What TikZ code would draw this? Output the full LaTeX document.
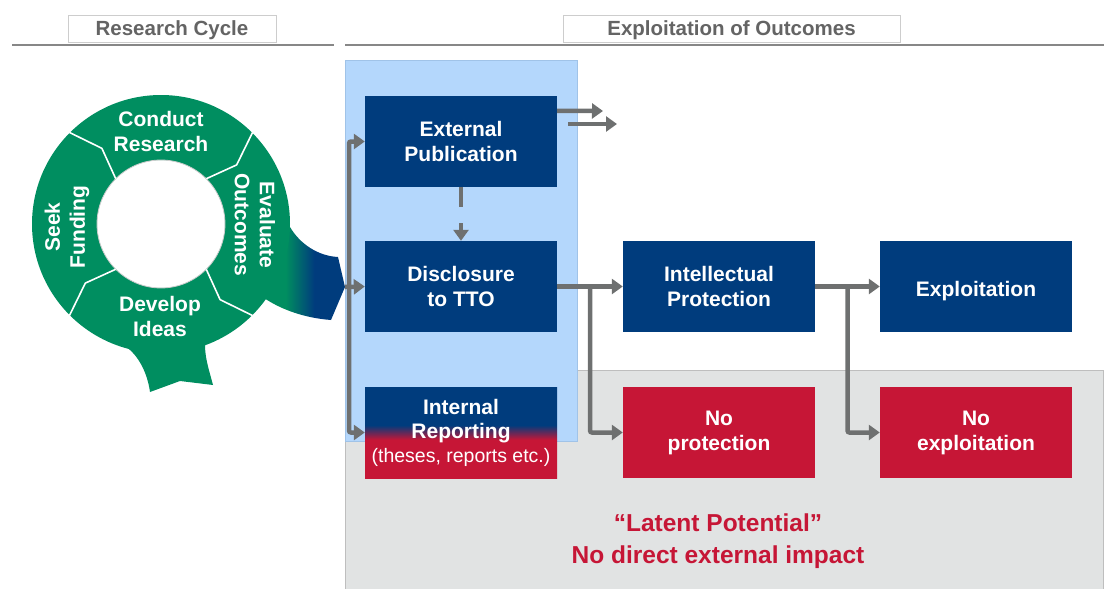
\documentclass[tikz,border=0pt]{standalone}
\usepackage{fontspec}
\setmainfont{Liberation Sans}
\usetikzlibrary{arrows.meta,calc}
\definecolor{cgreen}{RGB}{0,142,96}
\definecolor{cblue}{RGB}{0,60,125}
\definecolor{cred}{RGB}{198,22,54}
\definecolor{lblue}{RGB}{180,215,252}
\definecolor{lbluedge}{RGB}{160,195,232}
\definecolor{lgray}{RGB}{225,227,227}
\definecolor{lgrayedge}{RGB}{190,190,190}
\definecolor{agray}{RGB}{110,112,112}
\definecolor{hgray}{RGB}{100,100,100}
\definecolor{hline}{RGB}{135,135,135}
\definecolor{hbox}{RGB}{205,205,205}
\pgfdeclarehorizontalshading{tailshade}{100bp}{color(0bp)=(cgreen); color(42bp)=(cgreen); color(58bp)=(cblue); color(100bp)=(cblue)}
\pgfdeclareverticalshading{irshade}{100bp}{color(0bp)=(cred); color(46bp)=(cred); color(54bp)=(cblue); color(100bp)=(cblue)}
\begin{document}
\begin{tikzpicture}[x=1pt,y=-1pt,
  box/.style={rectangle, minimum width=192pt, minimum height=91pt, inner sep=0pt, text=white,
    font=\fontsize{21}{25}\selectfont\bfseries, align=center,
    execute at begin node={\rule{0pt}{24pt}}},
  bluebox/.style={box, fill=cblue},
  redbox/.style={box, fill=cred},
  arr/.style={draw=agray, line width=4.5pt, rounded corners=2pt, -{Triangle[length=11pt,width=15pt]}},
  ringtext/.style={text=white, font=\fontsize{21}{25}\selectfont\bfseries, align=center, inner sep=0pt},
  hdr/.style={draw=hbox, line width=1pt, fill=white, text=hgray, font=\fontsize{20.5}{24}\selectfont\bfseries,
    minimum height=27pt, inner sep=0pt, execute at begin node={\rule{0pt}{19pt}}},
  chev/.style={white, line width=1.6pt}
]
\useasboundingbox (0,0) rectangle (1104,589);

% headers
\node[hdr, minimum width=208pt] (h1) at (172,28.5) {Research Cycle};
\node[hdr, minimum width=337pt] (h2) at (731.5,28.5) {Exploitation of Outcomes};
\draw[hline, line width=2.5pt] (12,45) -- (334,45);
\draw[hline, line width=2.5pt] (345,45) -- (1104,45);

% panels
\draw[fill=lgray, draw=lgrayedge, line width=1pt] (345.5,370) rectangle (1103.5,600);
\draw[fill=lblue, draw=lbluedge, line width=1pt] (345.5,60.5) rectangle (577.5,441);

% tails of the cycle
\fill[cgreen] (118,335) -- (123,345) .. controls (136,352) and (147,370) .. (150,392)
  -- (180,381) -- (213,385) .. controls (209,370) and (205,358) .. (205,345) -- (200,335) -- cycle;
\shade[shading=tailshade] (275,222) -- (290,227) .. controls (300,244) and (318,256) .. (338,257)
  -- (345,287) -- (331,320) .. controls (305,318) and (282,310) .. (264,298) -- (255,260) -- cycle;

% ring
\begin{scope}[shift={(161,224)}]
  \fill[cgreen, even odd rule] (0,0) circle[radius=129pt] (0,0) circle[radius=64pt];
  \draw[hbox, line width=0.8pt] (0,0) circle[radius=64pt];
  \foreach \a in {45,135,225,315}
    \draw[chev] (\a:64pt) -- ({\a-7}:96pt) -- (\a:129.5pt);
\end{scope}
\node[ringtext] (cr) at (161,131) {Conduct\\Research};
\node[ringtext] (di) at (160,316) {Develop\\Ideas};
\node[ringtext, rotate=90] (sf) at (67,227) {Seek\\Funding};
\node[ringtext, rotate=-90] (eo) at (255,225) {Evaluate\\Outcomes};

% boxes
\node[bluebox] (ext) at (461,141.5) {External\\Publication};
\node[bluebox] (dis) at (461,286.5) {Disclosure\\to TTO};
\node[box, shade, shading=irshade, font=\fontsize{21}{24}\selectfont\bfseries] (int) at (461,432.5)
  {Internal\\Reporting\\{\mdseries\fontsize{19.5}{24}\selectfont (theses, reports etc.)}};
\node[bluebox] (ip) at (719,286.5) {Intellectual\\Protection};
\node[bluebox] (ex) at (976,286.5) {Exploitation};
\node[redbox] (np) at (719,432.5) {No\\protection};
\node[redbox] (ne) at (976,432.5) {No\\exploitation};

\node[text=cred, font=\fontsize{24.5}{32}\selectfont\bfseries, align=center] (lat) at (718,541.5)
  {“Latent Potential”\\No direct external impact};

% connectors
\coordinate (tip) at (345,287);
\coordinate (src) at (349,286.5);
\draw[arr] (tip) -- (dis.west);
\draw[arr] (src) |- (ext.west);
\draw[arr] (src) |- (int.west);

\coordinate (a1e) at (603,111);
\coordinate (a2s) at (568,124);
\coordinate (a2e) at (617,124);
\draw[arr] ($(ext.north east)+(0,15)$) -- (a1e);
\draw[arr] (a2s) -- (a2e);

\draw[arr, dash pattern=on 20pt off 16pt] (ext.south) -- (dis.north);

\coordinate (b1) at ($(dis.east)!0.5!(ip.west)$);
\coordinate (b2) at ($(ip.east)!0.5!(ex.west)$);
\draw[arr] (dis.east) -- (ip.west);
\draw[arr] (b1) |- (np.west);
\draw[arr] (ip.east) -- (ex.west);
\draw[arr] (b2) |- (ne.west);
\end{tikzpicture}
\end{document}
